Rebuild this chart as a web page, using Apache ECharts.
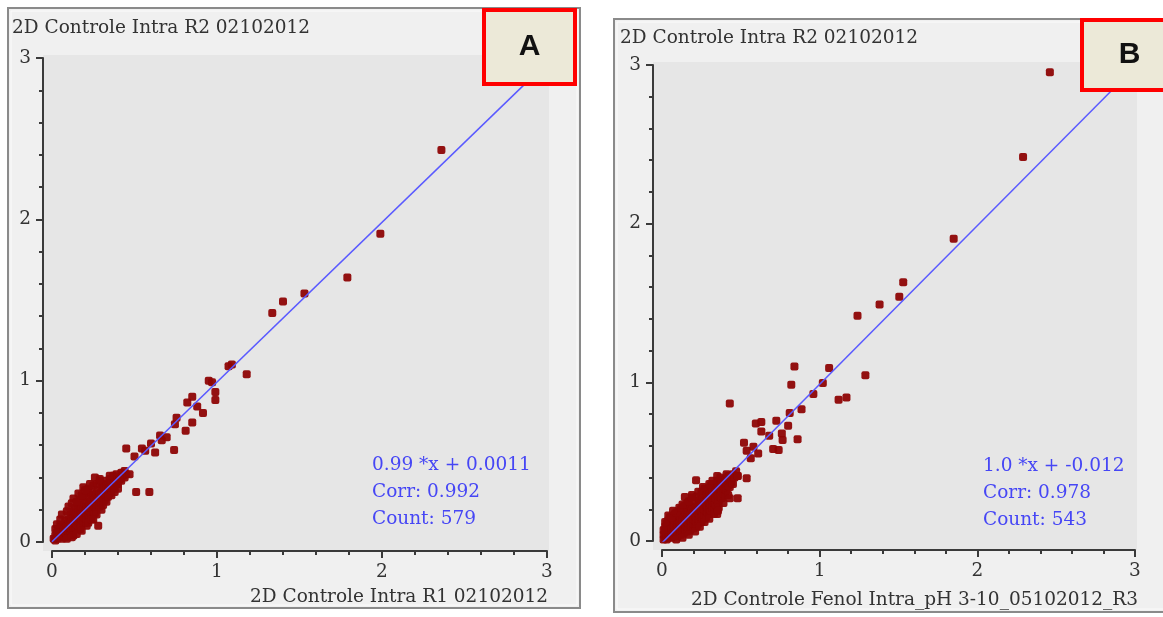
<!DOCTYPE html>
<html>
<head>
<meta charset="utf-8">
<script src="https://cdn.jsdelivr.net/npm/echarts@6/dist/echarts.min.js"></script>
<style>
  html, body { margin: 0; padding: 0; background: #ffffff; }
  #chart { width: 1163px; height: 617px; }
</style>
</head>
<body>
<div id="chart"></div>
<script>
// ---- data ----
const panelTags = ['A', 'B'];
const yTitles = ['2D Controle Intra R2 02102012', '2D Controle Intra R2 02102012'];
const xTitles = ['2D Controle Intra R1 02102012', '2D Controle Fenol Intra_pH 3-10_05102012_R3'];
const axisMin = 0;
const axisMax = 3;
const axisStep = 1;
const slopeText = ['0.99', '1.0'];
const interceptText = ['0.0011', '-0.012'];
const corrText = ['0.992', '0.978'];
const countText = ['579', '543'];

// spot volumes, replicate comparison A
const pointsA = [
  [0.01,0.02],[0.02,0.01],[0.02,0.04],[0.03,0.02],[0.03,0.06],[0.04,0.03],[0.04,0.08],[0.05,0.04],
  [0.05,0.06],[0.05,0.10],[0.06,0.02],[0.06,0.05],[0.06,0.08],[0.07,0.04],[0.07,0.07],[0.07,0.11],
  [0.08,0.03],[0.08,0.06],[0.08,0.09],[0.08,0.13],[0.09,0.05],[0.09,0.08],[0.09,0.11],[0.10,0.04],
  [0.10,0.07],[0.10,0.10],[0.10,0.14],[0.11,0.06],[0.11,0.09],[0.11,0.12],[0.11,0.17],[0.12,0.05],
  [0.12,0.08],[0.12,0.11],[0.12,0.15],[0.13,0.07],[0.13,0.10],[0.13,0.13],[0.13,0.19],[0.14,0.09],
  [0.14,0.12],[0.14,0.16],[0.14,0.21],[0.15,0.08],[0.15,0.11],[0.15,0.14],[0.15,0.18],[0.16,0.10],
  [0.16,0.13],[0.16,0.17],[0.16,0.23],[0.17,0.12],[0.17,0.15],[0.17,0.20],[0.17,0.26],[0.18,0.11],
  [0.18,0.14],[0.18,0.18],[0.18,0.22],[0.19,0.13],[0.19,0.16],[0.19,0.20],[0.19,0.28],[0.20,0.12],
  [0.20,0.15],[0.20,0.19],[0.20,0.24],[0.21,0.14],[0.21,0.18],[0.21,0.22],[0.21,0.30],[0.22,0.16],
  [0.22,0.20],[0.22,0.25],[0.22,0.33],[0.23,0.15],[0.23,0.19],[0.23,0.23],[0.23,0.28],[0.24,0.17],
  [0.24,0.21],[0.24,0.26],[0.24,0.31],[0.25,0.19],[0.25,0.23],[0.25,0.29],[0.25,0.35],[0.26,0.18],
  [0.26,0.22],[0.26,0.27],[0.27,0.21],[0.27,0.25],[0.27,0.30],[0.27,0.36],[0.28,0.23],[0.28,0.27],
  [0.28,0.32],[0.29,0.22],[0.29,0.26],[0.29,0.30],[0.29,0.38],[0.30,0.25],[0.30,0.29],[0.30,0.34],
  [0.31,0.27],[0.31,0.31],[0.31,0.36],[0.32,0.26],[0.32,0.30],[0.32,0.34],[0.33,0.29],[0.33,0.33],
  [0.33,0.38],[0.34,0.31],[0.34,0.35],[0.35,0.30],[0.35,0.34],[0.35,0.39],[0.36,0.33],[0.36,0.37],
  [0.37,0.35],[0.37,0.41],[0.38,0.34],[0.38,0.38],[0.39,0.37],[0.39,0.42],[0.40,0.36],[0.40,0.40],
  [0.41,0.39],[0.42,0.38],[0.42,0.43],[0.43,0.41],[0.44,0.40],[0.44,0.44],[0.45,0.42],
  [0.02,0.08],[0.03,0.11],[0.05,0.14],[0.06,0.17],[0.09,0.19],[0.10,0.22],[0.12,0.24],[0.13,0.27],
  [0.15,0.25],[0.16,0.30],[0.18,0.29],[0.19,0.34],[0.23,0.36],[0.26,0.40],[0.09,0.02],[0.13,0.04],
  [0.17,0.08],[0.21,0.10],[0.22,0.12],[0.24,0.14],[0.27,0.17],[0.30,0.20],[0.31,0.23],[0.33,0.25],
  [0.34,0.28],[0.36,0.29],[0.38,0.31],[0.40,0.33],
  [0.12,0.03],[0.15,0.05],[0.18,0.07],[0.25,0.14],[0.28,0.10],[0.20,0.32],
  [0.29,0.39],[0.35,0.41],[0.41,0.39],[0.47,0.42],[0.45,0.58],[0.50,0.53],[0.51,0.31],[0.59,0.31],
  [0.545,0.58],[0.565,0.565],[0.60,0.61],[0.625,0.555],[0.655,0.66],[0.665,0.63],[0.695,0.65],
  [0.74,0.57],[0.745,0.73],[0.755,0.77],[0.81,0.69],[0.82,0.865],[0.85,0.74],[0.85,0.90],
  [0.88,0.84],[0.915,0.80],[0.95,1.00],[0.97,0.99],[0.99,0.93],[0.99,0.88],[1.07,1.09],[1.09,1.10],
  [1.18,1.04],[1.335,1.42],[1.40,1.49],[1.53,1.54],[1.79,1.64],[1.99,1.91],[2.36,2.43]
];

// spot volumes, control vs phenol extraction B
const pointsB = [
  [0.01,0.01],[0.01,0.04],[0.02,0.02],[0.02,0.06],[0.02,0.09],[0.03,0.01],[0.03,0.04],[0.03,0.07],
  [0.03,0.11],[0.04,0.02],[0.04,0.05],[0.04,0.09],[0.04,0.13],[0.05,0.03],[0.05,0.07],[0.05,0.10],
  [0.05,0.15],[0.06,0.02],[0.06,0.05],[0.06,0.08],[0.06,0.12],[0.07,0.04],[0.07,0.07],[0.07,0.10],
  [0.07,0.14],[0.08,0.03],[0.08,0.06],[0.08,0.09],[0.08,0.13],[0.08,0.17],[0.09,0.05],[0.09,0.08],
  [0.09,0.11],[0.09,0.15],[0.10,0.03],[0.10,0.06],[0.10,0.10],[0.10,0.13],[0.10,0.18],[0.11,0.05],
  [0.11,0.08],[0.11,0.12],[0.11,0.16],[0.12,0.04],[0.12,0.07],[0.12,0.10],[0.12,0.14],[0.12,0.20],
  [0.13,0.06],[0.13,0.09],[0.13,0.12],[0.13,0.17],[0.14,0.05],[0.14,0.08],[0.14,0.11],[0.14,0.15],
  [0.14,0.22],[0.15,0.07],[0.15,0.10],[0.15,0.13],[0.15,0.18],[0.16,0.06],[0.16,0.09],[0.16,0.12],
  [0.16,0.16],[0.16,0.24],[0.17,0.08],[0.17,0.11],[0.17,0.14],[0.17,0.19],[0.18,0.07],[0.18,0.10],
  [0.18,0.13],[0.18,0.17],[0.18,0.22],[0.19,0.09],[0.19,0.12],[0.19,0.15],[0.19,0.20],[0.20,0.08],
  [0.20,0.11],[0.20,0.14],[0.20,0.18],[0.20,0.25],[0.21,0.10],[0.21,0.13],[0.21,0.16],[0.21,0.21],
  [0.22,0.09],[0.22,0.12],[0.22,0.15],[0.22,0.19],[0.22,0.28],[0.23,0.11],[0.23,0.14],[0.23,0.18],
  [0.23,0.23],[0.24,0.13],[0.24,0.16],[0.24,0.20],[0.24,0.26],[0.25,0.12],[0.25,0.15],[0.25,0.19],
  [0.25,0.24],[0.25,0.31],[0.26,0.14],[0.26,0.17],[0.26,0.22],[0.26,0.28],[0.27,0.16],[0.27,0.20],
  [0.27,0.25],[0.27,0.33],[0.28,0.15],[0.28,0.19],[0.28,0.23],[0.28,0.29],[0.29,0.18],[0.29,0.21],
  [0.29,0.26],[0.29,0.32],[0.30,0.17],[0.30,0.20],[0.30,0.24],[0.30,0.30],[0.31,0.19],[0.31,0.23],
  [0.31,0.28],[0.31,0.35],[0.32,0.21],[0.32,0.26],[0.32,0.31],[0.33,0.20],[0.33,0.24],[0.33,0.29],
  [0.33,0.36],[0.34,0.23],[0.34,0.27],[0.34,0.33],[0.35,0.22],[0.35,0.26],[0.35,0.31],[0.35,0.38],
  [0.36,0.25],[0.36,0.29],[0.36,0.35],[0.37,0.28],[0.37,0.33],[0.37,0.40],[0.38,0.27],[0.38,0.31],
  [0.38,0.37],[0.39,0.30],[0.39,0.35],[0.40,0.29],[0.40,0.33],[0.40,0.39],[0.41,0.32],[0.41,0.37],
  [0.42,0.35],[0.42,0.41],[0.43,0.34],[0.43,0.39],[0.44,0.37],[0.45,0.36],[0.45,0.42],[0.46,0.40],
  [0.47,0.44],[0.48,0.41],
  [0.01,0.07],[0.02,0.12],[0.04,0.16],[0.06,0.15],[0.09,0.18],[0.11,0.21],[0.13,0.23],[0.17,0.25],
  [0.19,0.29],[0.23,0.31],[0.26,0.34],[0.30,0.36],[0.32,0.38],[0.09,0.01],[0.13,0.02],[0.17,0.04],
  [0.21,0.06],[0.24,0.09],[0.27,0.12],[0.30,0.14],[0.33,0.17],[0.36,0.21],[0.39,0.24],[0.42,0.29],
  [0.07,0.19],[0.145,0.278],[0.19,0.274],[0.216,0.383],[0.35,0.41],[0.35,0.17],[0.355,0.19],
  [0.41,0.42],[0.43,0.27],[0.48,0.27],[0.48,0.41],[0.537,0.396],[0.43,0.867],
  [0.52,0.62],[0.537,0.569],[0.563,0.522],[0.58,0.594],[0.595,0.74],[0.61,0.552],[0.63,0.75],
  [0.63,0.69],[0.68,0.663],[0.705,0.58],[0.725,0.758],[0.74,0.573],[0.76,0.678],[0.765,0.636],
  [0.80,0.726],[0.81,0.807],[0.86,0.642],[0.885,0.83],[0.82,0.985],[0.84,1.10],[0.96,0.927],
  [1.02,0.996],[1.06,1.09],[1.12,0.89],[1.17,0.905],[1.29,1.045],[1.24,1.42],[1.38,1.49],
  [1.505,1.54],[1.53,1.63],[1.85,1.905],[2.29,2.42],[2.46,2.955]
];

const pointSets = [pointsA, pointsB];

// ---- layout of the two panels (pixels) ----
const panels = [
  { frame: [8, 8, 572, 600], grid: { left: 52, top: 58, width: 495, height: 484 },
    yTitle: { left: 12, top: 19 }, xTitle: { right: 615, top: 588 },
    note: { left: 372, top: 452 }, tag: [484, 10, 91, 74] },
  { frame: [614, 19, 560, 593], grid: { left: 662, top: 65, width: 473, height: 476 },
    yTitle: { left: 620, top: 29 }, xTitle: { right: 25, top: 591 },
    note: { left: 983, top: 453 }, tag: [1082, 20, 95, 70] }
];

const AXIS_OFFSET = 9;
const FONT = 'DejaVu Serif';
const FONT_SIZE = 18.5;
const axisColor = '#3a3a3a';
const textColor = '#333333';
const noteColor = '#4646f5';
const pointColor = '#8e0505';
const fitColor = '#5a5aff';

const chart = echarts.init(document.getElementById('chart'), null, { renderer: 'canvas' });

const grids = [], xAxes = [], yAxes = [], series = [], titles = [], graphics = [];

panels.forEach((p, i) => {
  const g = p.grid;
  grids.push(Object.assign({ show: false, containLabel: false }, g));

  const common = {
    gridIndex: i, type: 'value', min: axisMin, max: axisMax, interval: axisStep,
    offset: AXIS_OFFSET,
    axisLine: { show: true, onZero: false, lineStyle: { color: axisColor, width: 2 } },
    axisTick: { show: true, inside: false, length: 7, lineStyle: { color: axisColor, width: 2 } },
    minorTick: { show: true, splitNumber: 5, length: 4, lineStyle: { color: axisColor, width: 2 } },
    splitLine: { show: false },
    axisLabel: { color: textColor, fontFamily: FONT, fontSize: FONT_SIZE, margin: 12 }
  };
  xAxes.push(Object.assign({}, common, { position: 'bottom' }));
  yAxes.push(Object.assign({}, common, { position: 'left' }));

  series.push({
    type: 'scatter', xAxisIndex: i, yAxisIndex: i, data: pointSets[i],
    symbol: 'roundRect', symbolSize: 8, z: 3,
    itemStyle: { color: pointColor, opacity: 0.95 }
  });

  const m = Number(slopeText[i]);
  const b = Number(interceptText[i]);
  series.push({
    type: 'line', xAxisIndex: i, yAxisIndex: i, z: 4,
    data: [[axisMin, m * axisMin + b], [axisMax, m * axisMax + b]],
    showSymbol: false, silent: true,
    lineStyle: { color: fitColor, width: 1.5 }
  });

  // axis titles
  titles.push({ text: yTitles[i], left: p.yTitle.left, top: p.yTitle.top, padding: 0,
    textStyle: { fontFamily: FONT, fontSize: FONT_SIZE, fontWeight: 'normal', color: textColor } });
  titles.push({ text: xTitles[i], right: p.xTitle.right, top: p.xTitle.top, padding: 0,
    textStyle: { fontFamily: FONT, fontSize: FONT_SIZE, fontWeight: 'normal', color: textColor } });

  // regression summary
  titles.push({
    text: [slopeText[i] + ' *x + ' + interceptText[i], 'Corr: ' + corrText[i], 'Count: ' + countText[i]].join('\n'),
    left: p.note.left, top: p.note.top, padding: 0,
    textStyle: { fontFamily: FONT, fontSize: FONT_SIZE, fontWeight: 'normal', color: noteColor, lineHeight: 27 }
  });

  // panel frame and plot background
  const [fx, fy, fw, fh] = p.frame;
  graphics.push({ type: 'rect', z: -20, shape: { x: fx, y: fy, width: fw, height: fh },
    style: { fill: '#f0f0f0', stroke: '#8a8a8a', lineWidth: 2 } });
  graphics.push({ type: 'rect', z: -19, shape: { x: fx + 3, y: fy + 3, width: fw - 6, height: fh - 6 },
    style: { fill: 'none', stroke: '#fbfbfb', lineWidth: 1 } });
  graphics.push({ type: 'rect', z: -18,
    shape: { x: g.left - AXIS_OFFSET, y: g.top - 3, width: g.width + AXIS_OFFSET + 2, height: g.height + AXIS_OFFSET + 3 },
    style: { fill: '#e6e6e6' } });

  // panel tag
  const [tx, ty, tw, th] = p.tag;
  graphics.push({ type: 'rect', z: 50, shape: { x: tx, y: ty, width: tw, height: th },
    style: { fill: '#ece9d8', stroke: '#ff0000', lineWidth: 4 } });
  graphics.push({ type: 'text', z: 51, x: tx + tw / 2, y: ty + th / 2,
    style: { text: panelTags[i], font: 'bold 30px "Liberation Sans", Arial, sans-serif',
      fill: '#111111', align: 'center', verticalAlign: 'middle' } });
});

chart.setOption({
  animation: false,
  backgroundColor: '#ffffff',
  title: titles,
  grid: grids,
  xAxis: xAxes,
  yAxis: yAxes,
  series: series,
  graphic: { elements: graphics }
});
</script>
</body>
</html>
